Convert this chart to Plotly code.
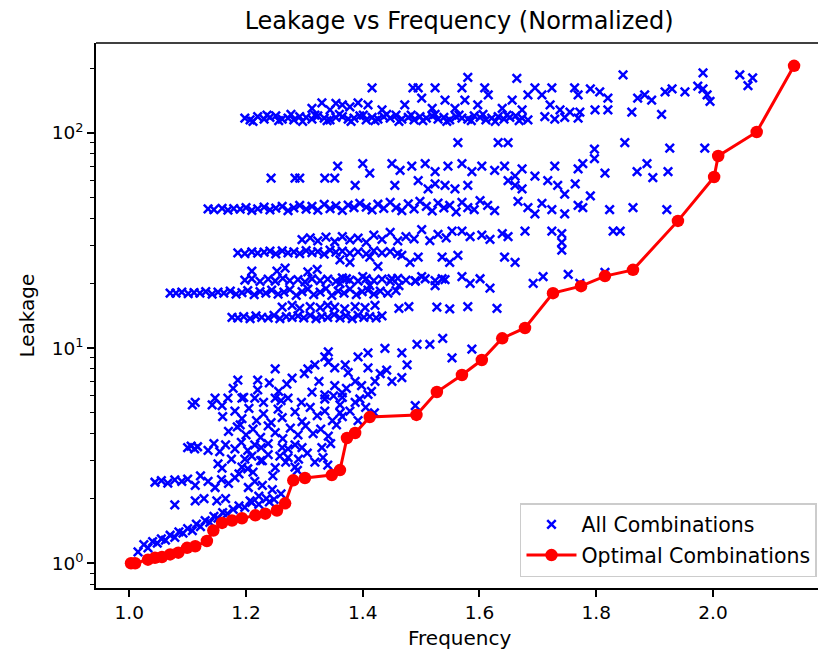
import plotly.graph_objects as go

# ---------------- Optimal combinations (red line) ----------------
opt_freq = [1.003, 1.010, 1.032, 1.044, 1.056, 1.070, 1.084, 1.099, 1.113, 1.133,
            1.144, 1.159, 1.176, 1.193, 1.216, 1.233, 1.253, 1.267, 1.281, 1.301,
            1.347, 1.361, 1.373, 1.387, 1.412, 1.492, 1.527, 1.570, 1.604, 1.639,
            1.678, 1.726, 1.774, 1.815, 1.863, 1.940, 2.002, 2.009, 2.075, 2.139]
opt_leak = [1.0, 1.0, 1.04, 1.06, 1.07, 1.10, 1.12, 1.18, 1.20, 1.27,
            1.42, 1.54, 1.58, 1.62, 1.67, 1.70, 1.76, 1.90, 2.43, 2.49,
            2.57, 2.71, 3.82, 4.03, 4.78, 4.89, 6.25, 7.5, 8.8, 11.1,
            12.4, 18.0, 19.4, 21.6, 23.1, 39.0, 62.4, 78.1, 101, 205]

# ---------------- All combinations (blue crosses), read band by band ----------------
band118_freq = [1.198, 1.207, 1.220, 1.231, 1.241, 1.251, 1.262, 1.272, 1.282, 1.292,
                1.303, 1.313, 1.323, 1.334, 1.344, 1.354, 1.365, 1.375, 1.385, 1.395,
                1.406, 1.416, 1.426, 1.436, 1.447, 1.457, 1.467, 1.478, 1.488, 1.498,
                1.509, 1.519, 1.529, 1.539, 1.549, 1.560, 1.570, 1.580, 1.591, 1.601,
                1.611, 1.621, 1.632, 1.642, 1.652, 1.662, 1.673, 1.683, 1.712, 1.729,
                1.746, 1.769,
                1.212, 1.236, 1.256, 1.277, 1.297, 1.318, 1.339, 1.360, 1.380, 1.401,
                1.421, 1.441, 1.462, 1.483, 1.503, 1.524, 1.544, 1.565, 1.586, 1.606,
                1.627, 1.647, 1.668]
band118_leak = [117, 115, 119, 116, 118, 120, 116, 117, 115, 119,
                118, 116, 120, 117, 115, 118, 119, 116, 117, 120,
                115, 118, 116, 119, 117, 121, 116, 118, 115, 119,
                117, 120, 116, 118, 115, 119, 117, 116, 120, 118,
                115, 117, 119, 116, 118, 120, 117, 115, 119, 116,
                118, 117,
                113, 121, 114, 122, 113, 121, 114, 122, 113, 121,
                114, 122, 113, 121, 114, 122, 113, 121, 114, 122,
                113, 121, 114]

upper_freq = [1.313, 1.330, 1.344, 1.354, 1.365, 1.378, 1.392, 1.409, 1.416, 1.433,
              1.472, 1.486, 1.495, 1.501, 1.519, 1.524, 1.541, 1.558, 1.570, 1.575,
              1.580, 1.597, 1.609, 1.615, 1.639, 1.656, 1.664, 1.673, 1.683, 1.695,
              1.707, 1.721, 1.724, 1.738, 1.755, 1.763, 1.769, 1.772, 1.790, 1.798,
              1.806, 1.820, 1.820, 1.846, 1.861, 1.871, 1.883, 1.895, 1.912, 1.918,
              1.930, 1.952, 1.974, 1.983, 1.983, 1.990, 1.995, 2.046, 2.060, 2.068]
upper_leak = [130, 138, 128, 137, 135, 132, 138, 135, 162, 128,
              135, 162, 162, 145, 130, 162, 142, 130, 162, 142,
              181, 135, 162, 150, 130, 142, 179, 128, 150, 162,
              150, 135, 162, 128, 125, 162, 150, 125, 160, 128,
              155, 145, 128, 186, 125, 145, 150, 142, 122, 155,
              160, 155, 165, 190, 160, 150, 140, 186, 166, 180]

mid_freq = [1.243, 1.284, 1.292, 1.335, 1.352, 1.357, 1.387, 1.400, 1.412, 1.450,
            1.455, 1.464, 1.484, 1.495, 1.507, 1.512, 1.524, 1.524, 1.541, 1.546,
            1.558, 1.563, 1.570, 1.580, 1.587, 1.604, 1.626, 1.632, 1.643, 1.649,
            1.649, 1.661, 1.661, 1.673, 1.673, 1.695, 1.717, 1.729, 1.734, 1.746,
            1.764, 1.769, 1.777, 1.790, 1.797, 1.797, 1.815, 1.849, 1.870, 1.887,
            1.897, 1.923, 1.926, 1.986]
mid_leak = [61.7, 61.7, 61.7, 61.7, 61.7, 70, 57, 72, 65, 72,
            57, 67, 70, 60, 72, 55, 66, 58, 57, 70,
            55, 90, 72, 57, 66, 70, 67, 90, 70, 90,
            60, 63, 57, 68, 55, 63, 60, 70, 57, 52,
            58, 68, 72, 51, 76, 84, 65, 90, 66, 72,
            62, 66, 85, 85]

band44_freq = [1.135, 1.145, 1.159, 1.169, 1.179, 1.190, 1.200, 1.210, 1.220, 1.231,
               1.241, 1.251, 1.262, 1.272, 1.282, 1.292, 1.303, 1.313, 1.323, 1.334,
               1.344, 1.354, 1.365, 1.375, 1.385, 1.395, 1.406, 1.416, 1.426, 1.436,
               1.447, 1.457, 1.467, 1.478, 1.488, 1.498, 1.509, 1.519, 1.529, 1.539,
               1.549, 1.560, 1.570, 1.580, 1.591, 1.601, 1.614, 1.626,
               1.666, 1.683, 1.695, 1.707, 1.724, 1.746, 1.769, 1.777, 1.823, 1.863,
               1.921]
band44_leak = [44.3, 44.0, 44.6, 43.8, 44.5, 44.2, 45.0, 43.6, 44.4, 45.2,
               43.9, 44.7, 45.5, 43.5, 44.8, 46.0, 44.2, 45.6, 43.8, 46.5,
               44.5, 45.8, 43.7, 46.2, 44.9, 47.0, 45.2, 43.9, 46.6, 44.6,
               47.5, 45.0, 43.5, 46.8, 44.4, 48.0, 45.5, 43.4, 47.2, 44.8,
               46.0, 43.0, 47.5, 45.0, 44.0, 48.5, 46.0, 43.5,
               48, 45, 42, 47, 44, 42, 46, 45, 44, 45,
               44]

band32_freq = [1.296, 1.310, 1.323, 1.337, 1.352, 1.365, 1.378, 1.392, 1.406, 1.419,
               1.433, 1.447, 1.460, 1.474, 1.488, 1.501, 1.515, 1.529, 1.543, 1.553,
               1.570, 1.584, 1.604, 1.618, 1.639, 1.649, 1.678, 1.724, 1.741, 1.741,
               1.741, 1.829, 1.841]
band32_leak = [31.9, 32.5, 31.5, 32.8, 31.2, 33.0, 31.8, 32.4, 31.0, 33.5,
               32.0, 34.5, 31.5, 33.0, 32.2, 35.5, 31.6, 33.8, 32.5, 35.0,
               35.0, 33.0, 33.5, 32.0, 34.0, 33.0, 35.0, 35.0, 34.0, 31.0,
               28.5, 35.0, 35.0]

band28_freq = [1.186, 1.198, 1.210, 1.220, 1.231, 1.241, 1.251, 1.262, 1.272, 1.282,
               1.292, 1.303, 1.313, 1.323, 1.334, 1.344, 1.354, 1.365, 1.378, 1.392,
               1.406, 1.419, 1.433, 1.447, 1.460,
               1.361, 1.378, 1.412, 1.426, 1.467, 1.481, 1.495, 1.536, 1.549, 1.563,
               1.643, 1.661, 1.210, 1.253, 1.267, 1.306, 1.322]
band28_leak = [27.7, 27.5, 28.0, 27.6, 27.9, 28.2, 27.4, 28.3, 27.7, 28.0,
               27.5, 28.4, 27.8, 28.1, 27.3, 28.5, 27.9, 28.2, 27.6, 28.0,
               27.4, 28.3, 27.7, 28.1, 27.5,
               25.7, 25.0, 26.5, 24.0, 27.0, 25.0, 26.5, 26.5, 25.0, 27.0,
               26.5, 25.0, 22.8, 22.8, 23.5, 22.6, 23.2]

band21_freq = [1.198, 1.210, 1.224, 1.238, 1.250, 1.263, 1.275, 1.289, 1.301, 1.313,
               1.327, 1.340, 1.354, 1.365, 1.378, 1.392, 1.406, 1.419, 1.433, 1.447,
               1.460, 1.474, 1.490, 1.507, 1.524, 1.541,
               1.361, 1.372, 1.400, 1.412, 1.450, 1.462, 1.490, 1.501, 1.524, 1.536,
               1.570, 1.584, 1.601, 1.618, 1.692, 1.709, 1.752, 1.815, 1.772]
band21_leak = [20.7, 21.0, 20.4, 20.9, 20.5, 21.1, 20.6, 20.8, 20.3, 21.0,
               20.6, 20.9, 20.4, 21.2, 20.7, 20.5, 21.0, 20.6, 20.9, 20.4,
               21.1, 20.7, 20.5, 21.0, 20.6, 20.8,
               20.0, 21.0, 21.5, 19.5, 21.0, 19.5, 20.5, 21.5, 19.5, 21.0,
               21.5, 20.0, 21.0, 19.0, 20.0, 21.5, 22.0, 22.5, 20.0]

band18_freq = [1.070, 1.080, 1.090, 1.101, 1.111, 1.121, 1.131, 1.142, 1.152, 1.162,
               1.173, 1.183, 1.193, 1.203, 1.214, 1.224, 1.234, 1.244, 1.255, 1.265,
               1.275, 1.286, 1.296, 1.306, 1.316, 1.327, 1.337, 1.347, 1.358, 1.368,
               1.378, 1.389, 1.399, 1.409, 1.419, 1.430, 1.443, 1.457,
               1.262, 1.279, 1.292, 1.310, 1.327, 1.340, 1.352, 1.369, 1.387, 1.404,
               1.421, 1.462, 1.479, 1.527, 1.549, 1.580, 1.630]
band18_leak = [18.0, 18.0, 18.2, 17.9, 18.1, 18.0, 18.3, 17.8, 18.2, 18.0,
               18.4, 17.8, 18.1, 18.5, 17.7, 18.3, 18.0, 18.6, 17.8, 18.2,
               18.7, 17.6, 18.3, 18.8, 17.7, 18.2, 18.9, 17.6, 18.4, 18.0,
               18.8, 17.7, 18.3, 18.6, 17.8, 18.4, 18.0, 18.5,
               15.5, 15.8, 15.3, 15.6, 15.4, 15.8, 15.5, 15.2, 15.6, 15.4,
               15.8, 15.3, 15.6, 15.5, 15.2, 15.6, 15.3]

band14_freq = [1.176, 1.186, 1.196, 1.207, 1.217, 1.227, 1.238, 1.248, 1.258, 1.269,
               1.279, 1.289, 1.299, 1.310, 1.320, 1.330, 1.340, 1.351, 1.361, 1.371,
               1.382, 1.392, 1.402, 1.412, 1.423, 1.433]
band14_leak = [13.9, 13.8, 14.0, 13.7, 14.1, 13.9, 13.8, 14.2, 13.7, 14.0,
               13.9, 14.1, 13.8, 14.2, 13.7, 14.0, 13.9, 14.3, 13.8, 14.1,
               13.7, 14.2, 13.9, 14.0, 13.8, 14.1]

low1_freq = [1.015, 1.025, 1.032, 1.040, 1.048, 1.055, 1.062, 1.070, 1.078, 1.085,
             1.092, 1.100, 1.108, 1.115, 1.122, 1.130, 1.138, 1.145, 1.152, 1.160,
             1.168, 1.178, 1.188, 1.198, 1.210, 1.222, 1.235, 1.248, 1.260]
low1_leak = [1.13, 1.22, 1.18, 1.26, 1.24, 1.30, 1.28, 1.35, 1.32, 1.40,
             1.38, 1.45, 1.42, 1.52, 1.48, 1.58, 1.55, 1.65, 1.62, 1.72,
             1.70, 1.78, 1.85, 1.82, 1.92, 1.88, 2.00, 1.98, 2.10]

low2_freq = [1.044, 1.055, 1.066, 1.078, 1.090, 1.100, 1.078, 1.113, 1.122, 1.135,
             1.113, 1.128, 1.147, 1.158, 1.170, 1.181, 1.150, 1.165, 1.204, 1.215,
             1.228, 1.245, 1.207, 1.222, 1.240]
low2_leak = [2.38, 2.42, 2.36, 2.44, 2.40, 2.46, 1.87, 2.30, 2.55, 2.40,
             1.95, 2.00, 2.25, 2.45, 2.35, 2.50, 1.95, 2.00, 2.25, 2.40,
             2.30, 2.20, 1.95, 2.05, 1.93]

low3_freq = [1.100, 1.106, 1.112, 1.117, 1.135, 1.145, 1.155, 1.165, 1.181, 1.192,
             1.203, 1.215, 1.226, 1.238, 1.262, 1.272, 1.284, 1.296, 1.330, 1.198,
             1.210, 1.225, 1.238, 1.272, 1.290, 1.159, 1.193, 1.203, 1.250, 1.284,
             1.340]
low3_leak = [3.45, 3.50, 3.40, 3.48, 3.35, 3.60, 3.30, 3.55, 3.40, 3.65,
             3.35, 3.55, 3.45, 3.60, 3.45, 3.40, 3.55, 3.45, 3.45, 3.05,
             3.15, 3.00, 3.20, 3.10, 3.05, 2.77, 2.80, 2.75, 2.78, 2.80,
             2.86]

low4_freq = [1.108, 1.142, 1.159, 1.181, 1.193, 1.205, 1.218, 1.230, 1.243, 1.255,
             1.262, 1.284, 1.296, 1.310, 1.322, 1.335, 1.348, 1.361, 1.170, 1.185,
             1.200, 1.212, 1.225, 1.238, 1.250, 1.263, 1.276, 1.289, 1.302, 1.315,
             1.328, 1.341, 1.355, 1.365, 1.378, 1.392, 1.405, 1.420, 1.490]
low4_leak = [5.44, 5.44, 5.40, 5.10, 4.70, 5.25, 4.60, 4.95, 4.50, 5.20,
             4.75, 5.05, 4.55, 5.30, 4.85, 5.10, 4.60, 5.00, 4.10, 4.30,
             3.95, 4.20, 3.85, 4.35, 4.05, 3.80, 4.25, 3.95, 4.35, 4.00,
             4.20, 3.90, 4.40, 4.80, 5.10, 4.60, 5.30, 5.00, 5.40]

low5_freq = [1.341, 1.341, 1.335, 1.186, 1.220, 1.250, 1.279, 1.306, 1.318, 1.113,
             1.147, 1.169, 1.193, 1.215, 1.250, 1.272, 1.313, 1.335, 1.361, 1.537,
             1.438, 1.493, 1.515, 1.587, 1.553, 1.409, 1.392, 1.370, 1.352, 1.467,
             1.476, 1.441, 1.409, 1.375, 1.352, 1.387, 1.421, 1.450, 1.467, 1.409,
             1.387, 1.365]
low5_leak = [9.6, 8.6, 9.1, 7.1, 7.1, 8.0, 7.25, 8.0, 8.36, 5.6,
             5.85, 5.85, 5.85, 5.85, 5.85, 5.85, 6.25, 6.06, 5.44, 11.1,
             9.96, 10.4, 10.4, 9.9, 9.0, 9.5, 9.1, 8.36, 8.1, 9.5,
             8.36, 7.9, 8.1, 7.7, 6.7, 7.0, 7.0, 7.0, 7.3, 6.1,
             5.6, 5.9]

low6_freq = [1.152, 1.175, 1.188, 1.212, 1.228, 1.246, 1.258, 1.268, 1.288, 1.305,
             1.318, 1.332, 1.345, 1.178, 1.196, 1.220, 1.240, 1.256, 1.270, 1.300,
             1.325, 1.350, 1.372, 1.395, 1.415, 1.430, 1.160, 1.190, 1.230, 1.260,
             1.295, 1.335, 1.365, 1.398]
low6_leak = [2.90, 3.05, 2.60, 2.65, 3.00, 2.55, 3.15, 2.95, 2.70, 3.25,
             2.95, 3.10, 3.60, 6.50, 5.90, 6.40, 6.90, 6.30, 6.80, 7.60,
             7.00, 6.00, 6.50, 5.80, 6.30, 7.60, 4.80, 4.40, 5.60, 5.70,
             5.60, 5.80, 6.20, 6.70]

x_tick_vals = [1.0, 1.2, 1.4, 1.6, 1.8, 2.0]
x_tick_text = ["1.0", "1.2", "1.4", "1.6", "1.8", "2.0"]
y_tick_vals = [1, 10, 100]
y_tick_text = ["10<sup>0</sup>", "10<sup>1</sup>", "10<sup>2</sup>"]
y_minor_vals = [0.8, 0.9, 2, 3, 4, 5, 6, 7, 8, 9, 20, 30, 40, 50, 60, 70, 80, 90, 200]

all_freq = (band118_freq + upper_freq + mid_freq + band44_freq + band32_freq + band28_freq
            + band21_freq + band18_freq + band14_freq + low1_freq + low2_freq + low3_freq
            + low4_freq + low5_freq + low6_freq)
all_leak = (band118_leak + upper_leak + mid_leak + band44_leak + band32_leak + band28_leak
            + band21_leak + band18_leak + band14_leak + low1_leak + low2_leak + low3_leak
            + low4_leak + low5_leak + low6_leak)

FONT = "DejaVu Sans"

fig = go.Figure()
fig.add_trace(go.Scatter(
    x=all_freq, y=all_leak, mode="markers", name="All Combinations", legendgroup="all",
    marker=dict(symbol="x-thin", size=8.5, color="blue", line=dict(width=2.5, color="blue")),
))
fig.add_trace(go.Scatter(
    x=opt_freq, y=opt_leak, mode="lines+markers", name="Optimal Combinations", legendgroup="opt",
    line=dict(color="red", width=3),
    marker=dict(symbol="circle", size=12.5, color="red"),
))

fig.update_layout(
    width=818, height=652,
    margin=dict(l=96, r=0, t=43, b=64),
    paper_bgcolor="white", plot_bgcolor="white",
    font=dict(family=FONT, size=20, color="black"),
    title=dict(text="Leakage vs Frequency (Normalized)", xref="paper", x=0.503, xanchor="center",
               yref="container", y=1 - 21 / 652, yanchor="middle", font=dict(size=24, color="black")),
    xaxis=dict(range=[0.943, 2.18], tickmode="array", tickvals=x_tick_vals, ticktext=x_tick_text,
               ticks="outside", ticklen=7, tickwidth=1.5, tickcolor="black",
               tickfont=dict(size=18.5),
               showline=True, linecolor="black", linewidth=1.5, mirror=False,
               showgrid=False, zeroline=False),
    yaxis=dict(type="log", range=[-0.1148, 2.4177], tickmode="array", tickvals=y_tick_vals,
               ticktext=y_tick_text, ticks="outside", ticklen=7, tickwidth=1.5, tickcolor="black",
               tickfont=dict(size=18.5),
               minor=dict(tickmode="array", tickvals=y_minor_vals, ticks="outside", ticklen=4,
                          tickwidth=1.2, tickcolor="black", showgrid=False),
               showline=True, linecolor="black", linewidth=1.5, mirror=False,
               showgrid=False, zeroline=False),
    legend=dict(x=0.9986, xanchor="right", y=0.02, yanchor="bottom",
                bgcolor="rgba(255,255,255,0.8)", bordercolor="#cccccc", borderwidth=1.5,
                font=dict(size=20.5), tracegroupgap=1, itemwidth=50),
    shapes=[dict(type="line", xref="paper", yref="paper", x0=0, x1=1, y0=1, y1=1,
                 line=dict(color="black", width=1.5))],
    annotations=[
        dict(text="Frequency", xref="paper", yref="paper", x=0.503, y=-0.0917,
             xanchor="center", yanchor="middle", showarrow=False, font=dict(size=20)),
        dict(text="Leakage", xref="paper", yref="paper", x=-0.0956, y=0.5, textangle=-90,
             xanchor="center", yanchor="middle", showarrow=False, font=dict(size=20)),
    ],
)

fig.write_html("out.html", config={"displayModeBar": False},
               post_script="document.body.style.margin='0';")
